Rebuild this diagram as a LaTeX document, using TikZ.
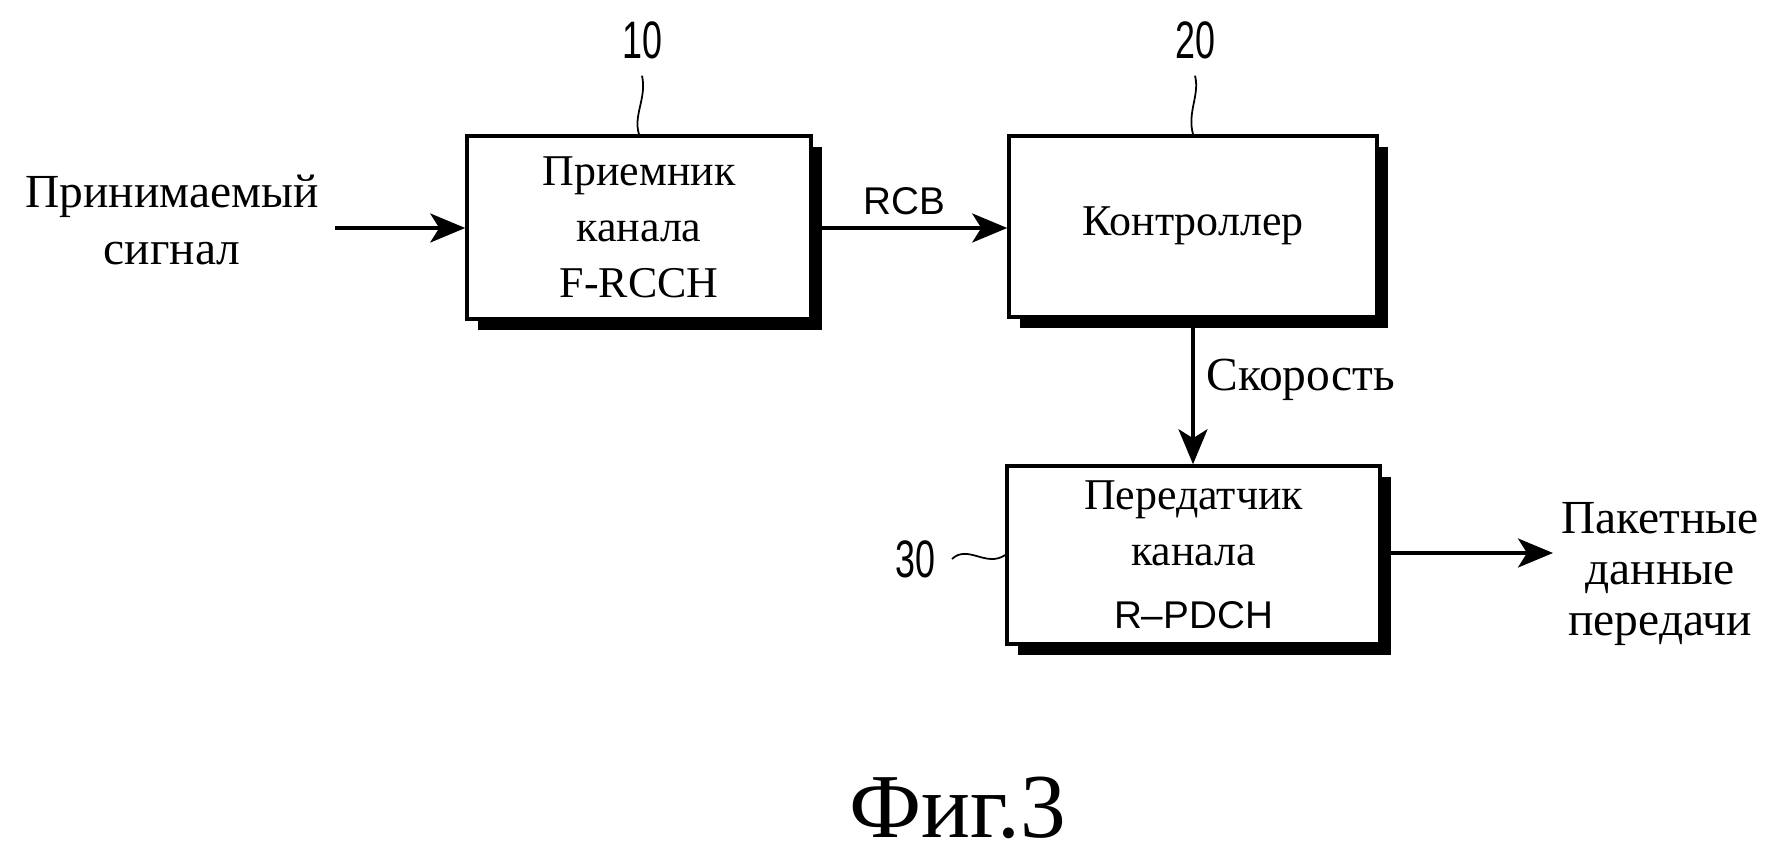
\documentclass[tikz,border=0pt]{standalone}
\usepackage{fontspec}
\setmainfont{Liberation Serif}
\newfontfamily\labelsans{Liberation Sans}
\usetikzlibrary{arrows.meta,shadows}
\def\refnum#1{{\labelsans\fontsize{15}{15}\selectfont\scalebox{0.68}[1]{#1}}}
\def\chname#1{{\labelsans\fontsize{11}{16}\selectfont #1}}
\tikzset{
	blockbox/.style={draw, line width=1pt, fill=white, align=center, inner sep=0pt,
		font=\fontsize{12.5}{16}\selectfont,
		general shadow={fill=black, shadow xshift=0.11cm, shadow yshift=-0.11cm}},
	signal/.style={-{Stealth[length=0.35cm, width=0.29cm, inset=0.09cm]}, line width=1pt},
	lbl/.style={align=center, inner sep=0pt, font=\fontsize{13.5}{16}\selectfont},
	refno/.style={inner sep=0pt, outer sep=0.17cm},
	leader/.style={line width=0.5pt}
}

\begin{document}
\begin{tikzpicture}
		%%%%% START %%%%%
		\useasboundingbox (0, 0) rectangle (17.72, -8.52);
		
		\node[blockbox, minimum width=3.44cm, minimum height=1.83cm] (rx) at (6.39, -2.275) {Приемник\\канала\\F-RCCH};
		\node[blockbox, minimum width=3.68cm, minimum height=1.81cm] (ctl) at (11.93, -2.265) {\raisebox{0.1cm}{Контроллер}};
		\node[blockbox, minimum width=3.73cm, minimum height=1.78cm] (tx) at (11.935, -5.55) {Передатчик\\канала\\[2pt]\chname{R–PDCH}};
		
		\node[refno] (n10) at (6.42, -0.40) {\refnum{10}};
		\node[refno] (n20) at (11.95, -0.40) {\refnum{20}};
		\node[refno] (n30) at (9.15, -5.59) {\refnum{30}};
		
		\draw[leader] (n10.south) .. controls (6.47, -0.98) and (6.33, -1.15) .. (rx.north);
		\draw[leader] (n20.south) .. controls (12.00, -0.95) and (11.87, -1.12) .. (ctl.north);
		\draw[leader] (n30.east) .. controls (9.68, -5.44) and (9.86, -5.68) .. (tx.west);
		
		\node[lbl] (insig) at (1.72, -2.20) {Принимаемый\\сигнал};
		\coordinate (insrc) at (3.35, -2.28);
		\draw[signal] (insrc) -- (insrc -| rx.west);
		
		\node[inner sep=0pt] (rcb) at (9.04, -2.01) {\chname{RCB}};
		\draw[signal] (rx.east |- insrc) -- (ctl.west |- insrc);
		
		\node[lbl, anchor=west] (rate) at (12.06, -3.80) {Скорость};
		\draw[signal] (ctl.south) -- (ctl.south |- tx.north);
		
		\node[lbl, font=\fontsize{13.5}{14.5}\selectfont] (outdata) at (16.60, -5.74) {Пакетные\\данные\\передачи};
		\coordinate (outend) at (15.53, -5.53);
		\draw[signal] (tx.east |- outend) -- (outend);
		
		\node[inner sep=0pt, font=\fontsize{26}{30}\selectfont] (fig) at (9.58, -8.08) {Фиг.3};
		
		%%%%% END %%%%%
	\end{tikzpicture}
\end{document}
